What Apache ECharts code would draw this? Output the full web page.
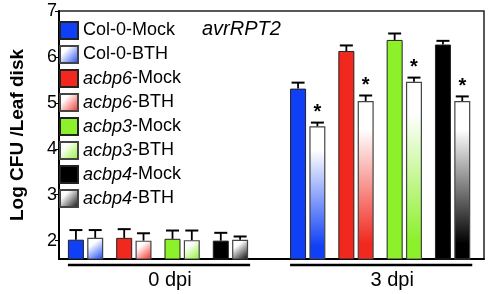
<!DOCTYPE html>
<html style="height: 100%">
<head>
	<meta charset="utf-8">
</head>
<body style="height: 100%; margin: 0">
<div id="container" style="width: 490px; height: 294px"></div>
<script type="text/javascript" src="https://cdn.jsdelivr.net/npm/echarts@6/dist/echarts.min.js"></script>
<script type="text/javascript">
    // values (order: Col-0, acbp6, acbp3, acbp4; Mock then BTH)
    var groups = ['0 dpi', '3 dpi'];
    var genotypes = ['Col-0', 'acbp6', 'acbp3', 'acbp4'];
    var italicGenotype = [false, true, true, true];
    var treatments = ['Mock', 'BTH'];
    var colors = ['#1040f5', '#f0281e', '#8cf02a', '#000000'];

    var means0 = [2.02, 2.06, 2.06, 2.00, 2.04, 2.01, 2.00, 2.02];
    var errs0 = [0.21, 0.17, 0.19, 0.16, 0.18, 0.21, 0.17, 0.07];
    var means3 = [5.31, 4.49, 6.13, 5.04, 6.37, 5.46, 6.27, 5.04];
    var errs3 = [0.13, 0.08, 0.12, 0.12, 0.14, 0.09, 0.08, 0.10];
    var stars0 = [0, 0, 0, 0, 0, 0, 0, 0];
    var stars3 = [0, 1, 0, 1, 0, 1, 0, 1];
    var yTicks = [2, 3, 4, 5, 6, 7];

    var means = [means0, means3];
    var errs = [errs0, errs3];
    var stars = [stars0, stars3];

    // slot layout on a fine category axis
    var slotCount = 88, firstSlot = 3, groupStride = 46, pairStride = 10, treatStride = 4;
    var yMin = 1.6, yMax = 7;
    var font = 'Liberation Sans, Arial, sans-serif';

    function slotOf(g, p, t) {
        return firstSlot + g * groupStride + p * pairStride + t * treatStride;
    }

    var slots = [];
    for (var i = 0; i < slotCount; i++) slots.push('s' + i);

    function diagGrad(c) {
        return new echarts.graphic.LinearGradient(0, 0, 1, 1, [
            {offset: 0, color: '#ffffff'}, {offset: 0.3, color: '#ffffff'}, {offset: 1, color: c}]);
    }
    function vertGrad(c) {
        return new echarts.graphic.LinearGradient(0, 0, 0, 1, [
            {offset: 0, color: '#ffffff'}, {offset: 0.18, color: '#ffffff'}, {offset: 0.9, color: c}, {offset: 1, color: c}]);
    }

    var series = [];
    var legendNames = [];
    var errData = [];
    genotypes.forEach(function (gen, p) {
        treatments.forEach(function (tr, t) {
            var name = gen + '-' + tr;
            legendNames.push(name);
            var k = p * 2 + t;
            var data = groups.map(function (grp, g) {
                var item = {value: [slotOf(g, p, t), means[g][k]]};
                if (t === 1 && g === 1) item.itemStyle = {color: vertGrad(colors[p])};
                errData.push([slotOf(g, p, t), means[g][k], errs[g][k], stars[g][k]]);
                return item;
            });
            series.push({
                name: name,
                type: 'bar',
                barWidth: 16,
                barGap: '-100%',
                data: data,
                itemStyle: t === 0
                    ? {color: colors[p], borderColor: '#222', borderWidth: 1}
                    : {color: diagGrad(colors[p]), borderColor: '#444', borderWidth: 1.2}
            });
        });
    });

    series.push({
        type: 'custom',
        z: 5,
        data: errData,
        renderItem: function (params, api) {
            var x = api.value(0), m = api.value(1), e = api.value(2);
            var base = api.coord([x, m]);
            var top = api.coord([x, m + e]);
            var children = [
                {type: 'line', shape: {x1: base[0], y1: base[1], x2: top[0], y2: top[1]}, style: {stroke: '#000', lineWidth: 1.8}},
                {type: 'line', shape: {x1: top[0] - 6.5, y1: top[1], x2: top[0] + 6.5, y2: top[1]}, style: {stroke: '#000', lineWidth: 2}}
            ];
            if (api.value(3)) {
                children.push({type: 'text', x: top[0], y: top[1] - 10,
                    style: {text: '*', fill: '#000', font: 'bold 20px ' + font, align: 'center', verticalAlign: 'middle'}});
            }
            return {type: 'group', children: children};
        }
    });

    // group brackets under the axis
    series.push({
        type: 'custom',
        data: groups.map(function (grp, g) { return [slotOf(g, 0, 0), slotOf(g, 3, 1), g]; }),
        renderItem: function (params, api) {
            var a = api.coord([api.value(0), yMin]);
            var b = api.coord([api.value(1), yMin]);
            var y = a[1] + 6;
            return {type: 'group', children: [
                {type: 'line', shape: {x1: a[0] - 8, y1: y, x2: b[0] + 10, y2: y}, style: {stroke: '#000', lineWidth: 2.5}},
                {type: 'text', x: (a[0] + b[0]) / 2 + 12, y: y + 15,
                    style: {text: groups[api.value(2)], fill: '#000', font: '20px ' + font, align: 'center', verticalAlign: 'middle'}}
            ]};
        }
    });

    var myChart = echarts.init(document.getElementById('container'));
    myChart.setOption({
        animation: false,
        backgroundColor: '#fff',
        title: {
            text: 'avrRPT2', left: 202, top: 19, padding: 0,
            textStyle: {fontFamily: font, fontStyle: 'italic', fontWeight: 'normal', fontSize: 20, color: '#000'}
        },
        legend: {
            data: legendNames,
            orient: 'vertical',
            left: 54, top: 16,
            itemWidth: 18, itemHeight: 17, itemGap: 5,
            icon: 'rect',
            formatter: function (n) {
                var idx = legendNames.indexOf(n);
                var p = Math.floor(idx / 2);
                var rest = n.slice(genotypes[p].length);
                return italicGenotype[p] ? '{i|' + genotypes[p] + '}' + rest : n;
            },
            textStyle: {fontFamily: font, fontSize: 18, color: '#000', lineHeight: 18,
                rich: {i: {fontFamily: font, fontSize: 18, fontStyle: 'italic', color: '#000', lineHeight: 18}}}
        },
        grid: {left: 43, top: 11, right: 6, bottom: 35, show: true, borderColor: '#222', borderWidth: 1.5},
        xAxis: {
            type: 'category', data: slots,
            axisLine: {lineStyle: {color: '#000', width: 2}},
            axisTick: {show: false}, axisLabel: {show: false}, splitLine: {show: false}
        },
        yAxis: {
            type: 'value', min: yMin, max: yMax,
            name: 'Log CFU /Leaf disk', nameLocation: 'middle', nameGap: 32,
            nameTextStyle: {fontFamily: font, fontSize: 19, fontWeight: 'bold', color: '#000'},
            axisLine: {show: true, lineStyle: {color: '#000', width: 2}},
            axisTick: {show: true, length: 4, customValues: yTicks, lineStyle: {color: '#000'}},
            axisLabel: {customValues: yTicks, fontFamily: font, fontSize: 18, color: '#000', margin: 2},
            splitLine: {show: false}
        },
        series: series
    });
</script>
</body>
</html>
